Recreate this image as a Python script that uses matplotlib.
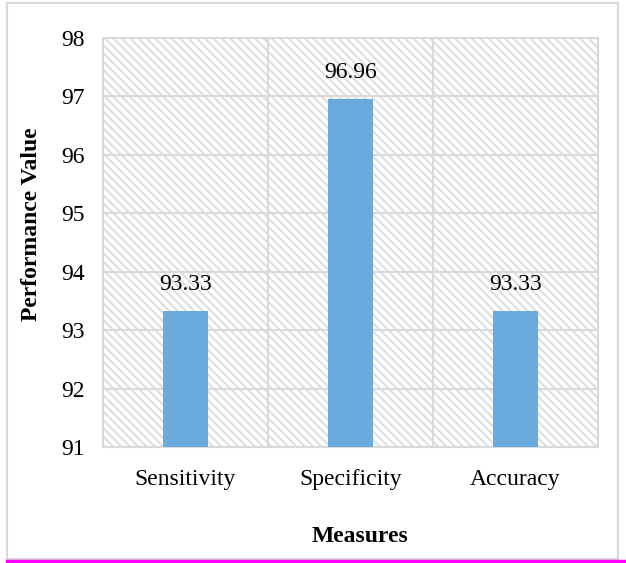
import matplotlib.pyplot as plt
from matplotlib.patches import Rectangle

measures = ['Sensitivity', 'Specificity', 'Accuracy']
values = [93.33, 96.96, 93.33]
yticks = [91, 92, 93, 94, 95, 96, 97, 98]

plt.rcParams['font.family'] = ['Liberation Serif', 'DejaVu Serif']
plt.rcParams['hatch.linewidth'] = 1.5

grid_col = '#d9d9d9'
fs = 17

fig = plt.figure(figsize=(6.26, 5.63), dpi=100)
ax = fig.add_axes([103 / 626, 116 / 563, 495 / 626, 409 / 563])

# hatched plot background
ax.add_patch(Rectangle((0, 0), 1, 1, transform=ax.transAxes, facecolor='white',
                       edgecolor='#dedede', hatch='\\\\\\\\', linewidth=0, zorder=0))

x = range(len(measures))
ax.bar(x, values, width=0.27, color='#6aaadc', zorder=3)
for xi, v in zip(x, values):
    ax.text(xi, v + 0.27, f'{v:.2f}', ha='center', va='bottom', fontsize=fs, zorder=4)

ax.set_ylim(91, 98)
ax.set_xlim(-0.5, len(measures) - 0.5)
ax.set_yticks(yticks)
ax.set_xticks(list(x))
ax.set_xticklabels(measures, fontsize=fs)
ax.tick_params(axis='y', labelsize=fs, length=0, pad=13)
ax.tick_params(axis='x', length=0, pad=16)

# grid lines: horizontal at each tick, vertical between categories
for y in yticks:
    ax.axhline(y, color=grid_col, linewidth=1.5, zorder=1)
for b in [0.5, 1.5]:
    ax.axvline(b, color=grid_col, linewidth=1.5, zorder=1)
for s in ax.spines.values():
    s.set_color(grid_col)
    s.set_linewidth(1.5)

ax.set_ylabel('Performance Value', fontsize=fs, fontweight='bold')
ax.set_xlabel('Measures', fontsize=fs, fontweight='bold')
ax.yaxis.set_label_coords(-61 / 495, 0.545)
ax.xaxis.set_label_coords(0.52, -79 / 409)

# chart frame and bottom rule
fig.add_artist(Rectangle((7 / 626, 4 / 563), 611 / 626, 556 / 563, transform=fig.transFigure,
                         facecolor='none', edgecolor='#d9d9d9', linewidth=1.5))
fig.add_artist(plt.Line2D([7 / 626, 1], [2 / 563, 2 / 563], transform=fig.transFigure,
                          color='#ff00ff', linewidth=2.5))

fig.savefig('out.png', dpi=100)
